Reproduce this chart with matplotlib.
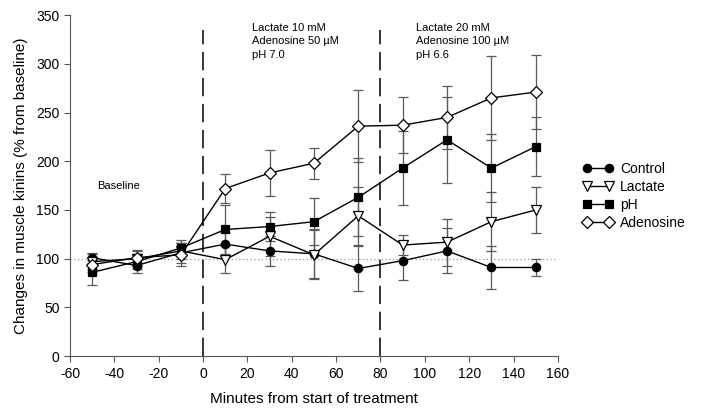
import matplotlib.pyplot as plt

plt.rcParams['font.family'] = ['Liberation Sans', 'DejaVu Sans']
plt.rcParams['axes.unicode_minus'] = False

minutes = [-50, -30, -10, 10, 30, 50, 70, 90, 110, 130, 150]

control = [101, 93, 106, 115, 108, 105, 90, 98, 108, 91, 91]
control_err = [5, 8, 10, 12, 15, 25, 23, 20, 23, 22, 9]

lactate = [97, 100, 108, 99, 123, 104, 144, 114, 117, 138, 150]
lactate_err = [8, 8, 8, 14, 20, 25, 30, 10, 24, 30, 24]

ph = [86, 97, 111, 130, 133, 138, 163, 193, 222, 193, 215]
ph_err = [13, 8, 8, 25, 15, 24, 40, 38, 44, 35, 30]

adenosine = [94, 101, 104, 172, 188, 198, 236, 237, 245, 265, 271]
adenosine_err = [8, 8, 12, 15, 24, 16, 37, 29, 32, 43, 38]

series = [
    ('Control', control, control_err, 'o', 'black', 6),
    ('Lactate', lactate, lactate_err, 'v', 'white', 6.5),
    ('pH', ph, ph_err, 's', 'black', 5.5),
    ('Adenosine', adenosine, adenosine_err, 'D', 'white', 6),
]

fig = plt.figure(figsize=(7.03, 4.19), dpi=100)
ax = fig.add_axes([0.0996, 0.150, 0.694, 0.814])

ax.axhline(100, color='#999999', lw=0.9, ls=(0, (1, 2)), zorder=1)
for xv in [0, 80]:
    ax.plot([xv, xv], [0, 335], color='black', lw=1.1, ls=(0, (12, 5)), zorder=1)

for name, vals, errs, mk, fc, ms in series:
    ax.errorbar(minutes, vals, yerr=errs, fmt='none', ecolor='#5a5a5a',
                elinewidth=0.9, capsize=3.5, capthick=0.9, zorder=2)
    ax.plot(minutes, vals, color='black', lw=1.0, marker=mk, ms=ms,
            mfc=fc, mec='black', mew=0.9, label=name, zorder=3)

ax.text(-48, 175, 'Baseline', fontsize=8, va='center')
ax.text(22, 342, 'Lactate 10 mM\nAdenosine 50 µM\npH 7.0', fontsize=8,
        va='top', linespacing=1.45)
ax.text(96, 342, 'Lactate 20 mM\nAdenosine 100 µM\npH 6.6', fontsize=8,
        va='top', linespacing=1.45)

ax.set_xlim(-60, 160)
ax.set_ylim(0, 350)
ax.set_xticks(range(-60, 161, 20))
ax.set_yticks(range(0, 351, 50))
ax.spines['top'].set_visible(False)
ax.spines['right'].set_visible(False)
for s in ['left', 'bottom']:
    ax.spines[s].set_color('#555555')
ax.tick_params(direction='out', length=4, color='#555555', labelsize=10)

ax.set_xlabel('Minutes from start of treatment', fontsize=11, labelpad=8)
ax.set_ylabel('Changes in muscle kinins (% from baseline)', fontsize=11, labelpad=6)

ax.legend(loc='center left', bbox_to_anchor=(1.025, 0.47), frameon=False,
          numpoints=2, fontsize=10, handlelength=2.2, labelspacing=0.3,
          handletextpad=0.5)

fig.savefig('out.png', dpi=100)
